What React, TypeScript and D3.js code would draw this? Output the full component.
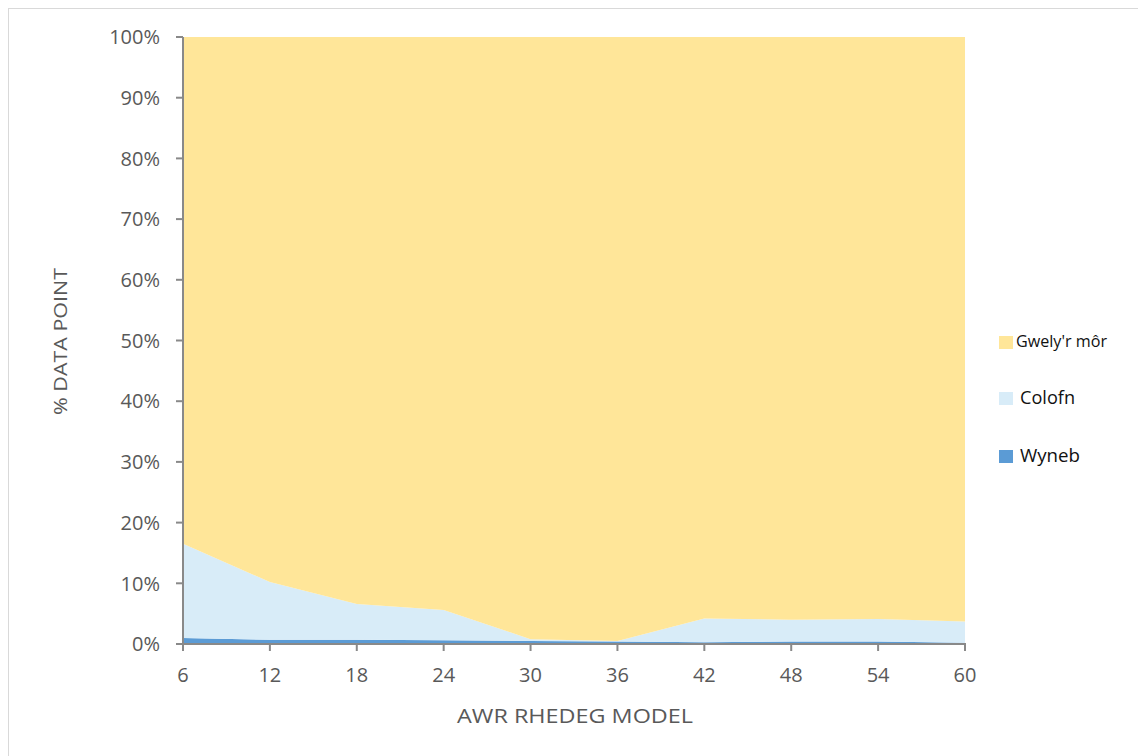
import React from "react";
import * as d3 from "d3";

const runs = [6, 12, 18, 24, 30, 36, 42, 48, 54, 60];
const wyneb = [1.0, 0.7, 0.7, 0.6, 0.5, 0.4, 0.3, 0.4, 0.4, 0.2];
const colofn = [15.5, 9.5, 5.9, 5.0, 0.3, 0.1, 3.9, 3.6, 3.7, 3.5];
const gwely = [83.5, 89.8, 93.4, 94.4, 99.2, 99.5, 95.8, 96.0, 95.9, 96.3];
const yTicks = [0, 10, 20, 30, 40, 50, 60, 70, 80, 90, 100];
const seriesNames = ["Wyneb", "Colofn", "Gwely'r môr"];
const colors = ["#5B9BD5", "#D8ECF8", "#FFE699"];

export default function App() {
  const W = 1138, H = 756;
  const x = d3.scaleLinear().domain([6, 60]).range([183, 965]);
  const y = d3.scaleLinear().domain([0, 100]).range([644, 37]);
  const table = runs.map((r, i) => ({ r, Wyneb: wyneb[i], Colofn: colofn[i], "Gwely'r môr": gwely[i] }));
  const stack = d3.stack<any>().keys(seriesNames).offset(d3.stackOffsetExpand)(table);
  const area = d3.area<any>().x((d: any) => x(d.data.r)).y0((d: any) => y(d[0] * 100)).y1((d: any) => y(d[1] * 100));
  const font = "'Open Sans', 'Noto Sans', sans-serif";
  const legendItems = [
    { name: "Gwely'r môr", color: colors[2], y: 342, size: 15.5, len: 91, tx: 1016 },
    { name: "Colofn", color: colors[1], y: 398, size: 18, len: 55, tx: 1020 },
    { name: "Wyneb", color: colors[0], y: 456, size: 18, len: 60, tx: 1020 },
  ];
  return (
    <svg width={W} height={H} style={{ position: "absolute", left: 0, top: 0, background: "#fff" }}>
      <rect x={8.5} y={8.5} width={1140} height={760} fill="#fff" stroke="#d9d9d9" strokeWidth={1} />
      {stack.map((s, i) => (
        <path key={i} d={area(s) || ""} fill={colors[i]} />
      ))}
      {/* y axis */}
      <line x1={183} x2={183} y1={37} y2={645} stroke="#898989" strokeWidth={2} />
      {yTicks.map((t) => (
        <g key={t}>
          <line x1={176} x2={183} y1={y(t)} y2={y(t)} stroke="#898989" strokeWidth={2} />
          <text x={160} y={y(t)} dy="0.36em" textAnchor="end" fontFamily={font} fontSize={20} fill="#595959">{t}%</text>
        </g>
      ))}
      {/* x axis */}
      <line x1={182} x2={966} y1={644} y2={644} stroke="#898989" strokeWidth={2} />
      {runs.map((r) => (
        <g key={r}>
          <line x1={x(r)} x2={x(r)} y1={644} y2={651} stroke="#898989" strokeWidth={2} />
          <text x={x(r)} y={682} textAnchor="middle" fontFamily={font} fontSize={20} fill="#595959">{r}</text>
        </g>
      ))}
      <text x={457} y={723} textAnchor="start" fontFamily={font} fontSize={20} fill="#595959" textLength={236} lengthAdjust="spacingAndGlyphs">AWR RHEDEG MODEL</text>
      <text transform={`translate(67,415) rotate(-90)`} textAnchor="start" fontFamily={font} fontSize={19} fill="#595959" textLength={147} lengthAdjust="spacingAndGlyphs">% DATA POINT</text>
      {legendItems.map((l) => (
        <g key={l.name}>
          <rect x={999} y={l.y - 6} width={14} height={13} fill={l.color} />
          <text x={l.tx} y={l.y} dy="0.35em" fontFamily={font} fontSize={l.size} fill="#111" textLength={l.len} lengthAdjust="spacingAndGlyphs">{l.name}</text>
        </g>
      ))}
    </svg>
  );
}
